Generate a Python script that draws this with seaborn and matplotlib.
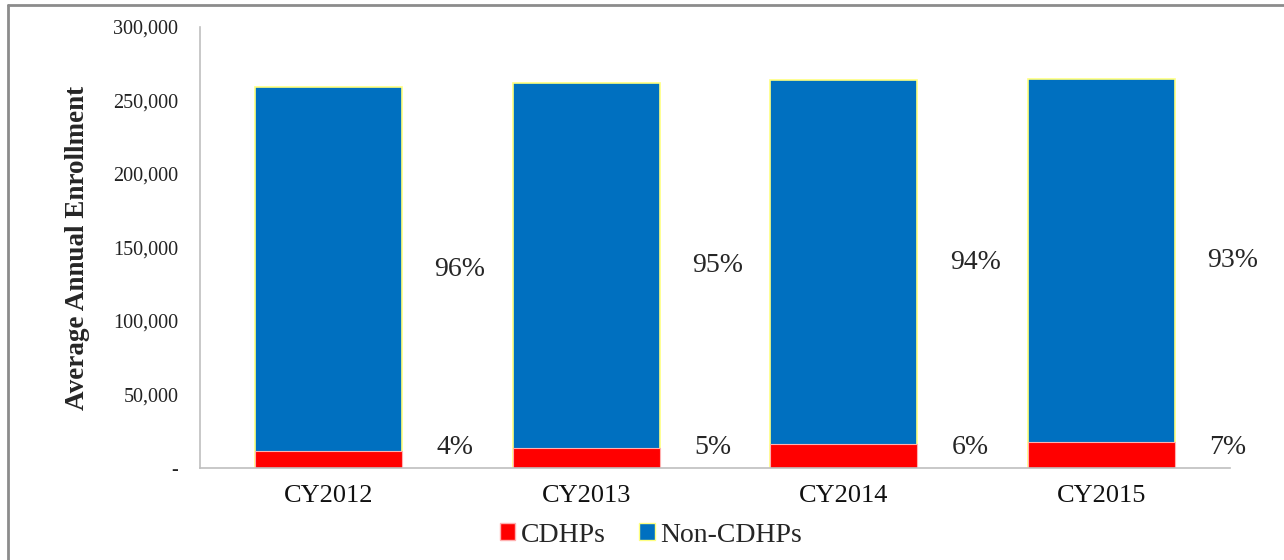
import matplotlib
matplotlib.use('Agg')
import matplotlib.pyplot as plt
import matplotlib.patches as mpatches
from matplotlib.lines import Line2D
from matplotlib.ticker import FuncFormatter
import seaborn as sns

# Data
years = ['CY2012', 'CY2013', 'CY2014', 'CY2015']
total_enrollment = [259300, 261900, 264000, 264700]
cdhp_enrollment = [11300, 13300, 16000, 18000]
cdhp_pct = ['4%', '5%', '6%', '7%']
non_cdhp_pct = ['96%', '95%', '94%', '93%']

blue = '#0070C0'
red = '#FF0000'

sns.set_style('white')
plt.rcParams['font.family'] = ['Liberation Serif', 'DejaVu Serif']

fig = plt.figure(figsize=(12.84, 5.6), dpi=100)
W, H = 1284, 560
ax = fig.add_axes([200 / W, (H - 468) / H, 1030 / W, (468 - 27) / H])

# stacked bars: full total in blue, CDHPs in red on top of it at the base
sns.barplot(x=years, y=total_enrollment, color=blue, width=0.57,
            edgecolor='#FFFF80', linewidth=1.2, saturation=1, ax=ax)
sns.barplot(x=years, y=cdhp_enrollment, color=red, width=0.57,
            edgecolor='#FFB0B0', linewidth=0.8, saturation=1, ax=ax)

ax.set_xlim(-0.5, 3.5)
ax.set_ylim(0, 300000)
ax.set_yticks(range(0, 300001, 50000))
ax.yaxis.set_major_formatter(FuncFormatter(lambda v, p: '-' if v == 0 else f'{int(v):,}'))
ax.tick_params(axis='y', length=0, pad=15.5, labelsize=14.5, labelcolor='#222222')
ax.tick_params(axis='x', length=0, pad=12, labelsize=19, labelcolor='#111111')

for side in ['top', 'right']:
    ax.spines[side].set_visible(False)
for side in ['left', 'bottom']:
    ax.spines[side].set_color('#BFBFBF')
    ax.spines[side].set_linewidth(1.2)

ax.set_xlabel('')
ax.set_ylabel('Average Annual Enrollment', fontsize=19.5, fontweight='bold')
ax.yaxis.set_label_coords(-0.107, 0.5)

# percentage labels to the right of each bar
for i in range(len(years)):
    mid = (cdhp_enrollment[i] + total_enrollment[i]) / 2
    ax.text(i + 0.51, mid, non_cdhp_pct[i], ha='center', va='center', fontsize=20)
    ax.text(i + 0.49, 14000, cdhp_pct[i], ha='center', va='center', fontsize=20)

handles = [mpatches.Patch(facecolor=red, edgecolor='#FFB0B0', label='CDHPs'),
           mpatches.Patch(facecolor=blue, edgecolor='#FFFF80', label='Non-CDHPs')]
fig.legend(handles=handles, loc='center', bbox_to_anchor=(651 / W, 1 - 535 / H),
           ncol=2, frameon=False, fontsize=20, handlelength=0.55, handleheight=0.55,
           handletextpad=0.2, columnspacing=1.2)

# outer gray frame (top and left visible)
fig.add_artist(Line2D([8 / W, 1], [1 - 5 / H, 1 - 5 / H], color='#8C8C8C', lw=2))
fig.add_artist(Line2D([8 / W, 8 / W], [0, 1 - 5 / H], color='#8C8C8C', lw=2))

fig.savefig('out.png', dpi=100)
